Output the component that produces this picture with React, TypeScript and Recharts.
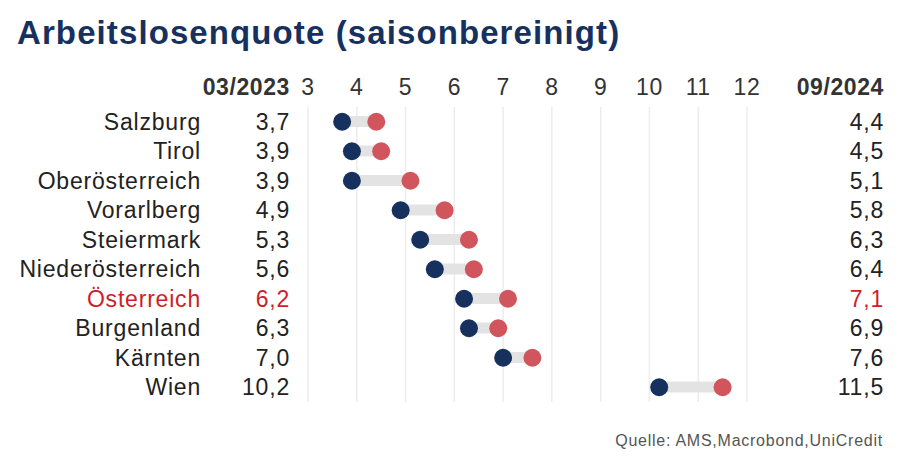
import React from "react";
import { ComposedChart, Bar, Line, XAxis, YAxis, CartesianGrid } from "recharts";

const regions = ["Salzburg", "Tirol", "Oberösterreich", "Vorarlberg", "Steiermark", "Niederösterreich", "Österreich", "Burgenland", "Kärnten", "Wien"];
const rate2023 = [3.7, 3.9, 3.9, 4.9, 5.3, 5.6, 6.2, 6.3, 7.0, 10.2];
const rate2024 = [4.4, 4.5, 5.1, 5.8, 6.3, 6.4, 7.1, 6.9, 7.6, 11.5];
const xTicks = [3, 4, 5, 6, 7, 8, 9, 10, 11, 12];
const highlight = "Österreich";

const NAVY = "#17315e";
const RED = "#d1555d";
const HL = "#cc1f2b";
const TEXT = "#222222";
const FONT = "'Liberation Sans', Arial, Helvetica, sans-serif";

const data = regions.map((name, i) => ({
  name,
  v1: rate2023[i],
  v2: rate2024[i],
  range: [rate2023[i], rate2024[i]],
}));

const fmt = (v: number) => v.toFixed(1).replace(".", ",");

const YTick = (props: any) => {
  const { y, payload } = props;
  const i = regions.indexOf(payload.value);
  const color = payload.value === highlight ? HL : TEXT;
  const common = { fontFamily: FONT, fontSize: 23, letterSpacing: 0.8, fill: color, dominantBaseline: "central" as any, textAnchor: "end" as any };
  return (
    <g>
      <text x={201} y={y} {...common}>{payload.value}</text>
      <text x={290} y={y} {...common}>{fmt(rate2023[i])}</text>
      <text x={884} y={y} {...common}>{fmt(rate2024[i])}</text>
    </g>
  );
};

const XTick = (props: any) => {
  const { x, payload } = props;
  return (
    <text x={x} y={95} textAnchor="middle" fontFamily={FONT} fontSize={23} letterSpacing={0.6} fill="#333">
      {payload.value}
    </text>
  );
};

export default function App() {
  return (
    <div style={{ position: "relative", width: 900, height: 461, background: "#fff", fontFamily: FONT }}>
      <style>{`body{margin:0}`}</style>
      <div style={{ position: "absolute", left: 17, top: 16, fontSize: 33, lineHeight: "33px", fontWeight: 700, color: NAVY, letterSpacing: 1.1, whiteSpace: "nowrap" }}>
        Arbeitslosenquote (saisonbereinigt)
      </div>
      <ComposedChart
        width={900}
        height={461}
        data={data}
        layout="vertical"
        margin={{ top: 77, right: 153, bottom: 59, left: 0 }}
      >
        <CartesianGrid horizontal={false} vertical={true} stroke="#ececec" strokeWidth={1.5} />
        <XAxis
          type="number"
          orientation="top"
          domain={[3, 12]}
          ticks={xTicks}
          axisLine={false}
          tickLine={false}
          tick={<XTick />}
          height={30}
          allowDataOverflow
        />
        <YAxis
          type="category"
          dataKey="name"
          width={308}
          axisLine={false}
          tickLine={false}
          tick={<YTick />}
          interval={0}
        />
        <Bar dataKey="range" fill="#e3e3e3" barSize={11} isAnimationActive={false} />
        <Line dataKey="v1" stroke="none" dot={{ r: 9, fill: NAVY, stroke: "none", fillOpacity: 1 }} activeDot={false} isAnimationActive={false} />
        <Line dataKey="v2" stroke="none" dot={{ r: 9, fill: RED, stroke: "none", fillOpacity: 1 }} activeDot={false} isAnimationActive={false} />
      </ComposedChart>
      <svg style={{ position: "absolute", left: 0, top: 0 }} width={900} height={120} pointerEvents="none">
        <text x={290} y={95} textAnchor="end" fontFamily={FONT} fontSize={23} fontWeight={700} letterSpacing={0.6} fill="#333">03/2023</text>
        <text x={884} y={95} textAnchor="end" fontFamily={FONT} fontSize={23} fontWeight={700} letterSpacing={0.6} fill="#333">09/2024</text>
      </svg>
      <div style={{ position: "absolute", right: 17, top: 431, fontSize: 16, lineHeight: "20px", color: "#555", letterSpacing: 0.75, whiteSpace: "nowrap" }}>
        Quelle: AMS,Macrobond,UniCredit
      </div>
    </div>
  );
}
